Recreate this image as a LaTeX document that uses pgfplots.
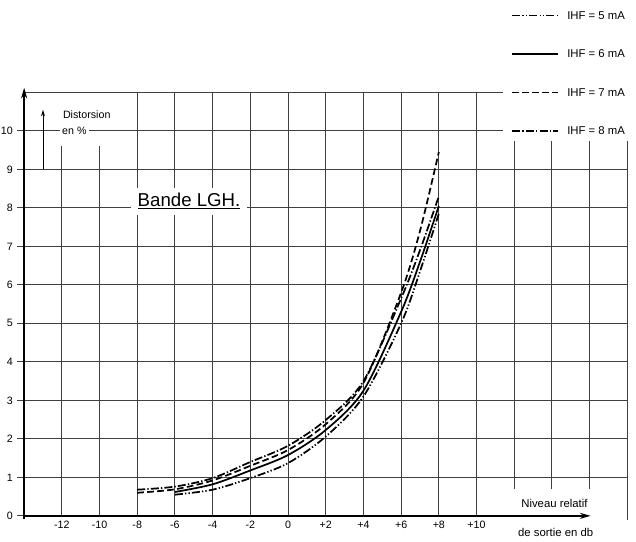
\documentclass[border=0pt]{standalone}
\usepackage{pgfplots}
\pgfplotsset{compat=1.18}
\usepackage{fontspec}
\setmainfont{Liberation Sans}
\usetikzlibrary{arrows.meta}
\definecolor{gridc}{gray}{0.25}
\begin{document}
\begin{tikzpicture}
\begin{axis}[
  scale only axis, width=452.4pt, height=317.6pt,
  xmin=-14, xmax=18, ymin=0, ymax=11,
  axis line style={draw=none},
  clip=false,
  xtick={-12,-10,-8,-6,-4,-2,0,2,4,6,8,10},
  xticklabels={-12,-10,-8,-6,-4,-2,0,+2,+4,+6,+8,+10},
  ytick={0,1,2,3,4,5,6,7,8,9,10},
  yticklabels={0,1,2,3,4,5,6,7,8,9,10},
  xtick pos=bottom, ytick pos=left,
  tick align=outside,
  major tick length=5pt,
  xtick style={draw=none},
  ytick style={gridc, line width=0.7pt},
  xticklabel style={font=\fontsize{8}{9}\selectfont, anchor=north, inner sep=0pt, yshift=1.5pt},
  yticklabel style={font=\fontsize{8}{9}\selectfont},
]
% grid
\pgfplotsinvokeforeach{1,2,3,4,5,6,7,8,9}{
  \draw[gridc, line width=0.7pt] (axis cs:-14,#1) -- (axis cs:18,#1);
}
\draw[gridc, line width=0.7pt] (axis cs:-14,10) -- (axis cs:11.4,10);
\draw[gridc, line width=0.7pt] (axis cs:-14,11) -- (axis cs:11.4,11);
\pgfplotsinvokeforeach{-12,-10}{
  \draw[gridc, line width=0.7pt] (axis cs:#1,0) -- (axis cs:#1,9.6);
}
\pgfplotsinvokeforeach{-8,-6,-4,-2,0,2,4,6,8,10}{
  \draw[gridc, line width=0.7pt] (axis cs:#1,0) -- (axis cs:#1,11);
}
\pgfplotsinvokeforeach{12,14,16}{
  \draw[gridc, line width=0.7pt] (axis cs:#1,0.7) -- (axis cs:#1,9.75);
}
\draw[gridc, line width=0.7pt] (axis cs:18,-0.1) -- (axis cs:18,9.75);
% axes
\draw[line width=1.3pt, -{Stealth[length=8pt,width=4.5pt]}] (axis cs:-14,-0.08) -- (axis cs:-14,11.12);
\draw[line width=1.3pt, -{Stealth[length=8pt,width=4.5pt]}] (axis cs:-14.05,0) -- (axis cs:16.05,0);
% labels
\node[fill=white, inner sep=1.5pt, anchor=west, font=\fontsize{8}{9}\selectfont] at (axis cs:-12.1,10) {en \%};
\node[anchor=west, inner sep=0pt, font=\fontsize{8}{9}\selectfont] at (axis cs:-11.95,10.42) {Distorsion};
\draw[line width=0.7pt, -{Stealth[length=5pt,width=3pt]}] (axis cs:-13,9) -- (axis cs:-13,10.55);
\node[fill=white, inner xsep=5pt, inner ysep=4pt, font=\fontsize{14}{16}\selectfont] at (axis cs:-5.25,8.17) {\underline{Bande LGH.}};
\node[anchor=east, inner sep=0pt, font=\fontsize{8.5}{9}\selectfont] at (axis cs:15.9,0.31) {Niveau relatif};
\node[anchor=east, inner sep=0pt, font=\fontsize{8.5}{9}\selectfont] at (axis cs:16.2,-0.44) {de sortie en db};
% curves
\addplot[black, line width=1.3pt, smooth, dash pattern=on 6pt off 1.6pt on 1pt off 1.6pt on 1pt off 1.6pt]
  coordinates {(-6,0.55) (-4,0.68) (-2,0.98) (0,1.37) (2,2.06) (4,3.1) (6,5.0) (7,6.35) (8,7.85)};
\addplot[black, line width=1.3pt, smooth]
  coordinates {(-6,0.62) (-4,0.82) (-2,1.18) (0,1.58) (2,2.23) (4,3.25) (6,5.3) (7,6.6) (8,8.05)};
\addplot[black, line width=1.3pt, smooth, dash pattern=on 5pt off 2.5pt]
  coordinates {(-8,0.6) (-6,0.69) (-4,0.92) (-2,1.30) (0,1.71) (2,2.38) (4,3.45) (6,5.8) (7,7.4) (8,9.45)};
\addplot[black, line width=1.3pt, smooth, dash pattern=on 6pt off 1.6pt on 1pt off 1.6pt]
  coordinates {(-8,0.68) (-6,0.76) (-4,0.98) (-2,1.40) (0,1.82) (2,2.49) (4,3.5) (6,5.65) (7,6.9) (8,8.3)};
% legend
\addplot[black, line width=1.3pt, dash pattern=on 6pt off 1.6pt on 1pt off 1.6pt on 1pt off 1.6pt] coordinates {(11.9,13) (14.3,13)};
\addplot[black, line width=1.3pt] coordinates {(11.9,12) (14.3,12)};
\addplot[black, line width=1.3pt, dash pattern=on 5pt off 2.5pt] coordinates {(11.9,11) (14.3,11)};
\addplot[black, line width=1.3pt, dash pattern=on 6pt off 1.6pt on 1pt off 1.6pt] coordinates {(11.9,10) (14.3,10)};
\node[anchor=west, inner sep=0pt, font=\fontsize{8.5}{9}\selectfont] at (axis cs:14.8,13) {IHF = 5 mA};
\node[anchor=west, inner sep=0pt, font=\fontsize{8.5}{9}\selectfont] at (axis cs:14.8,12) {IHF = 6 mA};
\node[anchor=west, inner sep=0pt, font=\fontsize{8.5}{9}\selectfont] at (axis cs:14.8,11) {IHF = 7 mA};
\node[anchor=west, inner sep=0pt, font=\fontsize{8.5}{9}\selectfont] at (axis cs:14.8,10) {IHF = 8 mA};
\coordinate (bbl) at (axis cs:-15.28,-0.675);
\coordinate (btr) at (axis cs:18.46,13.40);
\end{axis}
\pgfresetboundingbox
\useasboundingbox (bbl) rectangle (btr);
\end{tikzpicture}
\end{document}
